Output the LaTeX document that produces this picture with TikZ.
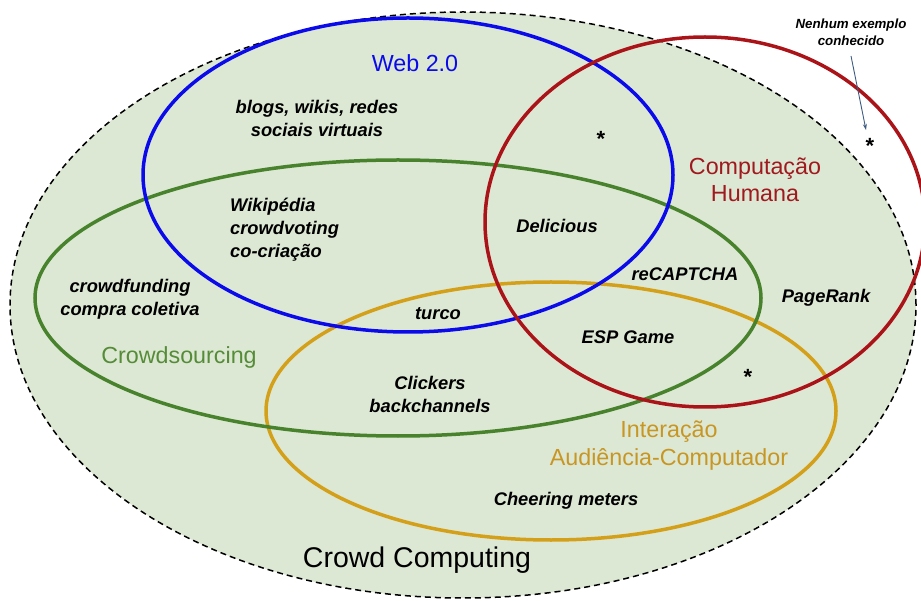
\documentclass[tikz,border=0pt]{standalone}
\usepackage{fontspec}
\setmainfont{Liberation Sans}
\usetikzlibrary{arrows.meta}
\definecolor{bgfill}{RGB}{220,232,212}
\definecolor{webblue}{RGB}{10,10,235}
\definecolor{chred}{RGB}{170,20,25}
\definecolor{chtext}{RGB}{160,25,30}
\definecolor{csgreen}{RGB}{72,130,45}
\definecolor{cstext}{RGB}{85,140,55}
\definecolor{iacgold}{RGB}{212,160,25}
\definecolor{iactext}{RGB}{200,150,35}
\definecolor{arrowblue}{RGB}{60,90,130}
\begin{document}
\begin{tikzpicture}[x=1pt,y=-1pt,
  lbl/.style={font=\fontsize{18.3}{23}\selectfont\bfseries\itshape, align=center, inner sep=0pt},
  ttl/.style={font=\fontsize{23.3}{27}\selectfont, align=center, inner sep=0pt},
  setline/.style={line width=3.5pt},
  starmark/.style={font=\fontsize{22}{22}\selectfont\bfseries, inner sep=0pt}]
\useasboundingbox (0,0) rectangle (921,601);
% Crowd Computing universe
\draw[fill=bgfill, dashed, dash pattern=on 6pt off 4pt, line width=1.5pt] (463,305) ellipse [x radius=453pt, y radius=293pt];
% sets
\draw[setline, iacgold] (551,411) ellipse [x radius=285pt, y radius=129pt];
\draw[setline, csgreen] (398,298) ellipse [x radius=363pt, y radius=138pt];
\draw[setline, webblue] (408,175) ellipse [x radius=265pt, y radius=157pt];
\draw[setline, chred] (705,222) ellipse [x radius=220pt, y radius=185pt];
% titles
\node[ttl, text=webblue] (tweb) at (415,63) {Web 2.0};
\node[ttl, text=chtext] (tch) at (755,180) {Computação\\Humana};
\node[ttl, text=cstext] (tcs) at (179,357) {Crowdsourcing};
\node[ttl, text=iactext, font=\fontsize{23.3}{28}\selectfont] (tiac) at (669,446) {Interação\\Audiência-Computador};
\node[ttl, font=\fontsize{28.5}{30}\selectfont] (tcc) at (417,560) {Crowd Computing};
% labels
\node[lbl] (lblogs) at (317,118) {blogs, wikis, redes\\sociais virtuais};
\node[lbl, align=left, anchor=west] (lwiki) at (230,230) {Wikipédia\\crowdvoting\\co-criação};
\node[lbl] (ldel) at (557,226) {Delicious};
\node[lbl] (lfund) at (130,299) {crowdfunding\\compra coletiva};
\node[lbl] (lrec) at (685,274) {reCAPTCHA};
\node[lbl] (lpr) at (826,298) {PageRank};
\node[lbl] (lturco) at (438,314) {turco};
\node[lbl] (lesp) at (628,337) {ESP Game};
\node[lbl] (lclick) at (430,394) {Clickers\\backchannels};
\node[lbl] (lcheer) at (566,501) {Cheering meters};
% stars
\node[starmark] (s1) at (601,139) {*};
\node[starmark] (s2) at (748,377) {*};
\node[starmark] (s3) at (870,146) {*};
% note
\node[lbl, font=\fontsize{13.3}{17}\selectfont\bfseries\itshape] (nenhum) at (851,32) {Nenhum exemplo\\conhecido};
\coordinate (astart) at (851,56);
\coordinate (aend) at (866,130);
\draw[arrowblue, line width=0.9pt, -{Stealth[length=6pt,width=4pt]}] (astart) -- (aend);
\end{tikzpicture}
\end{document}
